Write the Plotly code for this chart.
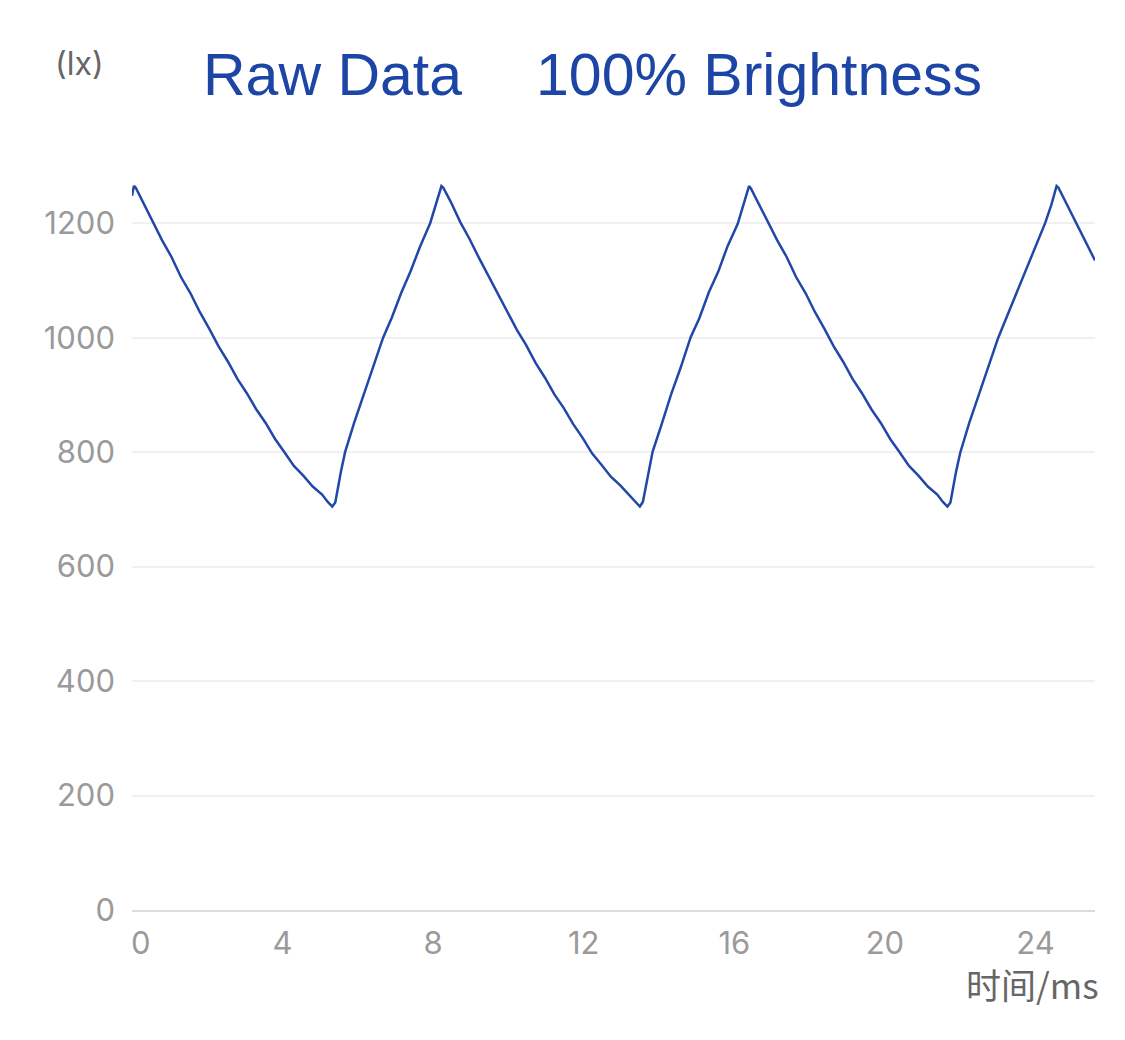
import plotly.graph_objects as go

# time in ms
time_ms = [
    0.00, 0.05, 0.10, 0.30, 0.55, 0.80, 1.05, 1.30, 1.55, 1.80, 2.05, 2.30, 2.55, 2.80,
    3.05, 3.30, 3.55, 3.80, 4.05, 4.30, 4.55, 4.80, 5.05, 5.20, 5.32,
    5.40, 5.55, 5.66, 5.90, 6.15, 6.40, 6.67, 6.90, 7.15, 7.40, 7.65, 7.92, 8.08, 8.22, 8.27,
    8.47, 8.72, 8.97, 9.22, 9.47, 9.72, 9.97, 10.22, 10.47, 10.72, 10.97, 11.22, 11.47,
    11.72, 11.97, 12.22, 12.47, 12.72, 12.97, 13.22, 13.37, 13.49,
    13.57, 13.72, 13.83, 14.07, 14.32, 14.57, 14.84, 15.07, 15.32, 15.57, 15.82, 16.09,
    16.25, 16.39, 16.44,
    16.64, 16.89, 17.14, 17.39, 17.64, 17.89, 18.14, 18.39, 18.64, 18.89, 19.14, 19.39,
    19.64, 19.89, 20.14, 20.39, 20.64, 20.89, 21.14, 21.39, 21.54, 21.66,
    21.74, 21.89, 22.00, 22.24, 22.49, 22.74, 23.01, 23.24, 23.49, 23.74, 23.99, 24.26,
    24.42, 24.56, 24.61,
    24.81, 25.06, 25.31, 25.58,
]

# illuminance in lx
lux = [
    1248, 1265, 1262, 1236, 1204, 1170, 1141, 1106, 1078, 1045, 1016, 985, 958, 928,
    903, 875, 851, 823, 800, 776, 759, 740, 726, 713, 705,
    712, 766, 800, 851, 899, 949, 1000, 1035, 1078, 1116, 1159, 1200, 1233, 1265, 1262,
    1237, 1202, 1172, 1139, 1108, 1076, 1047, 1014, 987, 956, 930, 901, 877,
    849, 825, 798, 778, 757, 742, 724, 715, 705,
    713, 764, 801, 849, 901, 947, 1001, 1034, 1079, 1115, 1160, 1199,
    1233, 1265, 1261,
    1235, 1204, 1170, 1141, 1106, 1078, 1045, 1016, 985, 958, 928, 903,
    875, 851, 823, 800, 776, 759, 740, 726, 713, 705,
    712, 766, 799, 851, 899, 949, 1000, 1037, 1077, 1118, 1157, 1201,
    1232, 1265, 1262,
    1236, 1203, 1171, 1135,
]

x_ticks = [0, 4, 8, 12, 16, 20, 24]
x_tick_labels = ["\u00a0\u00a00", "4", "8", "12", "16", "20", "24"]
y_ticks = [0, 200, 400, 600, 800, 1000, 1200]

title_left = "Raw Data"
title_right = "100% Brightness"
y_unit = "(lx)"
x_title = "时间/ms"

BLUE = "#1c45a6"
OFF = 8  # page body margin
W, H = 1125 - OFF, 1040 - OFF
L, R, T, B = 132 - OFF, 30, 166 - OFF, 130
pw = W - L - R
ph = H - T - B

def px_x(p):
    return (p - OFF - L) / pw

def px_y(p):
    return (H - B - (p - OFF)) / ph

fig = go.Figure()
fig.add_trace(go.Scatter(
    x=time_ms, y=lux, mode="lines",
    line=dict(color="#2148a8", width=2.5),
    hoverinfo="skip", showlegend=False,
))

tick_font = dict(family="Inter, Roboto, sans-serif", size=31, color="#9a9a9a")

fig.update_layout(
    width=W, height=H,
    margin=dict(l=L, r=R, t=T, b=B),
    paper_bgcolor="white", plot_bgcolor="white",
    xaxis=dict(
        range=[0, 25.58], tickvals=x_ticks, ticktext=x_tick_labels,
        showgrid=False, zeroline=False, showline=True, linecolor="#dcdcdc", linewidth=2,
        ticks="", tickfont=tick_font, ticklabelstandoff=5,
    ),
    yaxis=dict(
        range=[0, 1300], tickvals=y_ticks, ticktext=[str(v) for v in y_ticks],
        showgrid=True, gridcolor="#f0f0f0", gridwidth=2, zeroline=False, showline=False,
        ticks="", tickfont=tick_font, ticklabelstandoff=16,
    ),
    annotations=[
        dict(text=title_left, xref="paper", yref="paper", x=px_x(332), y=px_y(75),
             xanchor="center", yanchor="middle", showarrow=False,
             font=dict(family="Liberation Sans, Arial, sans-serif", size=59, color=BLUE)),
        dict(text=title_right, xref="paper", yref="paper", x=px_x(759), y=px_y(75),
             xanchor="center", yanchor="middle", showarrow=False,
             font=dict(family="Liberation Sans, Arial, sans-serif", size=59, color=BLUE)),
        dict(text=y_unit, xref="paper", yref="paper", x=px_x(79), y=px_y(64),
             xanchor="center", yanchor="middle", showarrow=False,
             font=dict(family="Inter, Roboto, sans-serif", size=32, color="#666666")),
        dict(text=x_title, xref="paper", yref="paper", x=px_x(1101), y=px_y(983),
             xanchor="right", yanchor="middle", showarrow=False,
             font=dict(family="Noto Sans CJK SC, sans-serif", size=35, color="#666666")),
    ],
)

fig.write_html("out.html")
